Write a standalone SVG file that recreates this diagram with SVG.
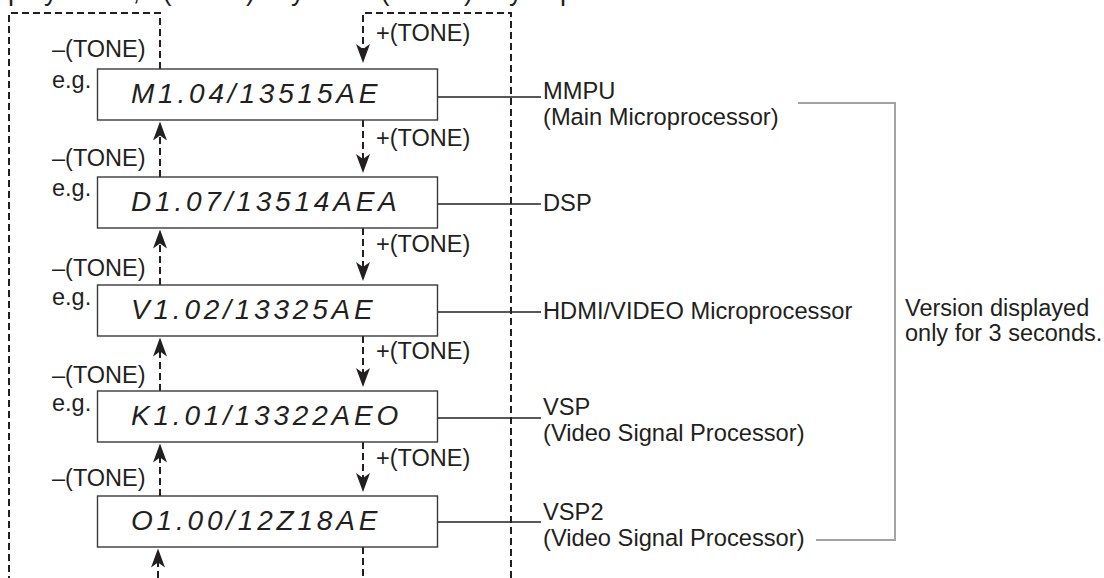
<svg xmlns="http://www.w3.org/2000/svg" width="1104" height="578" viewBox="0 0 1104 578">
  <style>
    text { font-family: "Liberation Sans", Arial, Helvetica, sans-serif; fill: #231f20; }
    .lbl { font-size: 23.5px; }
    .name { font-size: 23.7px; }
    .top { font-size: 27px; }
    .ver { font-size: 28px; font-style: italic; letter-spacing: 3.8px; }
    .box { fill: #ffffff; stroke: #3a3a3a; stroke-width: 1.4; }
    .dash { fill: none; stroke: #231f20; stroke-width: 2; stroke-dasharray: 7 4; }
    .solid { fill: none; stroke: #231f20; stroke-width: 1.4; }
    .gray { fill: none; stroke: #a3a3a3; stroke-width: 2; }
  </style>
  <defs>
    <marker id="ah" viewBox="-21 -8 22 16" refX="-10" refY="0" markerWidth="22" markerHeight="16" markerUnits="userSpaceOnUse" orient="auto">
      <path d="M0,0 L-19,-7 L-14,0 L-19,7 Z" fill="#231f20"/>
    </marker>
  </defs>

  <text class="top" x="-31" y="0">Display mode, –(TONE) key and +(TONE) key to proceed.</text>

  <g id="connectors">
    <path class="dash" d="M160,69 V13 H9 V578"/>
    <path class="dash" d="M158,578 V558.5" marker-end="url(#ah)"/>
    <path class="dash" d="M511,578 V13 H363 V53" marker-end="url(#ah)"/>
    <path class="dash" d="M363,547 V578"/>
    <path class="dash" d="M160,177 V131.5" marker-end="url(#ah)"/>
    <path class="dash" d="M160,285 V239.5" marker-end="url(#ah)"/>
    <path class="dash" d="M160,391 V347.5" marker-end="url(#ah)"/>
    <path class="dash" d="M160,496 V453.5" marker-end="url(#ah)"/>
    <path class="dash" d="M363,120 V163" marker-end="url(#ah)"/>
    <path class="dash" d="M363,228 V271" marker-end="url(#ah)"/>
    <path class="dash" d="M363,336 V377" marker-end="url(#ah)"/>
    <path class="dash" d="M363,442 V482" marker-end="url(#ah)"/>
    <path class="solid" d="M403,97 H541"/>
    <path class="solid" d="M403,204 H541"/>
    <path class="solid" d="M403,312 H541"/>
    <path class="solid" d="M403,418 H541"/>
    <path class="solid" d="M403,522 H541"/>
    <path class="gray" d="M798,103 H895 V540 H816"/>
  </g>

  <g id="tone-labels">
    <text class="lbl" x="52" y="57">–(TONE)</text>
    <text class="lbl" x="52" y="166">–(TONE)</text>
    <text class="lbl" x="52" y="276">–(TONE)</text>
    <text class="lbl" x="52" y="383">–(TONE)</text>
    <text class="lbl" x="52" y="486">–(TONE)</text>
    <text class="lbl" x="376" y="41">+(TONE)</text>
    <text class="lbl" x="376" y="146">+(TONE)</text>
    <text class="lbl" x="376" y="252">+(TONE)</text>
    <text class="lbl" x="376" y="359">+(TONE)</text>
    <text class="lbl" x="376" y="466">+(TONE)</text>
  </g>

  <g id="node-mmpu">
    <text class="lbl" x="52" y="88">e.g.</text>
    <rect class="box" x="97.5" y="69" width="340" height="51"/>
    <text class="ver" x="131" y="103">M1.04/13515AE</text>
    <text class="name" x="543" y="99">MMPU</text>
    <text class="name" x="543" y="125">(Main Microprocessor)</text>
  </g>

  <g id="node-dsp">
    <text class="lbl" x="52" y="196">e.g.</text>
    <rect class="box" x="97.5" y="177" width="340" height="51"/>
    <text class="ver" x="131" y="211">D1.07/13514AEA</text>
    <text class="name" x="543" y="211">DSP</text>
  </g>

  <g id="node-hdmi">
    <text class="lbl" x="52" y="305">e.g.</text>
    <rect class="box" x="97.5" y="285" width="340" height="51"/>
    <text class="ver" x="131" y="319">V1.02/13325AE</text>
    <text class="name" x="543" y="319">HDMI/VIDEO Microprocessor</text>
  </g>

  <g id="node-vsp">
    <text class="lbl" x="52" y="411">e.g.</text>
    <rect class="box" x="97.5" y="391" width="340" height="51"/>
    <text class="ver" x="131" y="425">K1.01/13322AEO</text>
    <text class="name" x="543" y="415">VSP</text>
    <text class="name" x="543" y="441">(Video Signal Processor)</text>
  </g>

  <g id="node-vsp2">
    <rect class="box" x="97.5" y="496" width="340" height="51"/>
    <text class="ver" x="131" y="530">O1.00/12Z18AE</text>
    <text class="name" x="543" y="520">VSP2</text>
    <text class="name" x="543" y="546">(Video Signal Processor)</text>
  </g>

  <g id="note">
    <text class="lbl" x="905" y="316">Version displayed</text>
    <text class="lbl" x="905" y="341">only for 3 seconds.</text>
  </g>
</svg>
